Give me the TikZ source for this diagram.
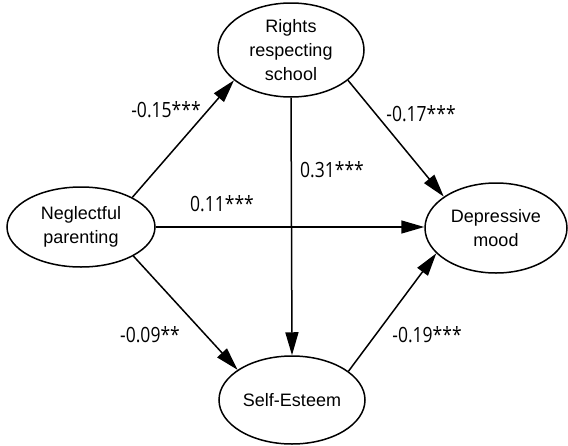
\documentclass[tikz,border=0pt]{standalone}
\usepackage{fontspec}
\usepackage{graphicx}
\setmainfont{Liberation Sans}
\newfontfamily\numfont{Open Sans}
\usetikzlibrary{arrows.meta,shapes.geometric}
\newcommand{\tallnum}[1]{\scalebox{1}[1.2]{#1}}
\begin{document}
\begin{tikzpicture}[x=1pt,y=-1pt,
  var/.style={ellipse,draw,line width=1.5pt,inner sep=0pt,align=center,
    font=\fontsize{18}{24}\selectfont},
  lab/.style={font=\numfont\fontsize{17.5}{20}\selectfont,inner sep=0pt},
  path/.style={line width=1.5pt,-{Triangle[length=23pt,width=13pt]}}]
\useasboundingbox (0,0) rectangle (568,445);
\node[var,minimum width=146pt,minimum height=94pt] (rs) at (291,50) {Rights\\respecting\\school};
\node[var,minimum width=148pt,minimum height=80pt] (np) at (81,227) {Neglectful\\parenting};
\node[var,minimum width=142pt,minimum height=90pt] (dm) at (496,228) {Depressive\\mood};
\node[var,minimum width=146pt,minimum height=88pt] (se) at (292,400) {Self-Esteem};
\draw[path] (np.30) -- (rs.208);
\draw[path] (np.east) -- (np.east -| dm.west);
\draw[path] (np.-29) -- (se.151);
\draw[path] (rs.south) -- (se.north);
\draw[path] (rs.-28) -- (dm.149);
\draw[path] (se.27) -- (dm.203);
\node[lab] (l1) at (166,110) {\tallnum{-0.15***}};
\node[lab] (l2) at (421,114) {\tallnum{-0.17***}};
\node[lab] (l3) at (332,170) {\tallnum{0.31***}};
\node[lab] (l4) at (222,204) {\tallnum{0.11***}};
\node[lab] (l5) at (150,335) {\tallnum{-0.09**}};
\node[lab] (l6) at (427,335) {\tallnum{-0.19***}};
\end{tikzpicture}
\end{document}
